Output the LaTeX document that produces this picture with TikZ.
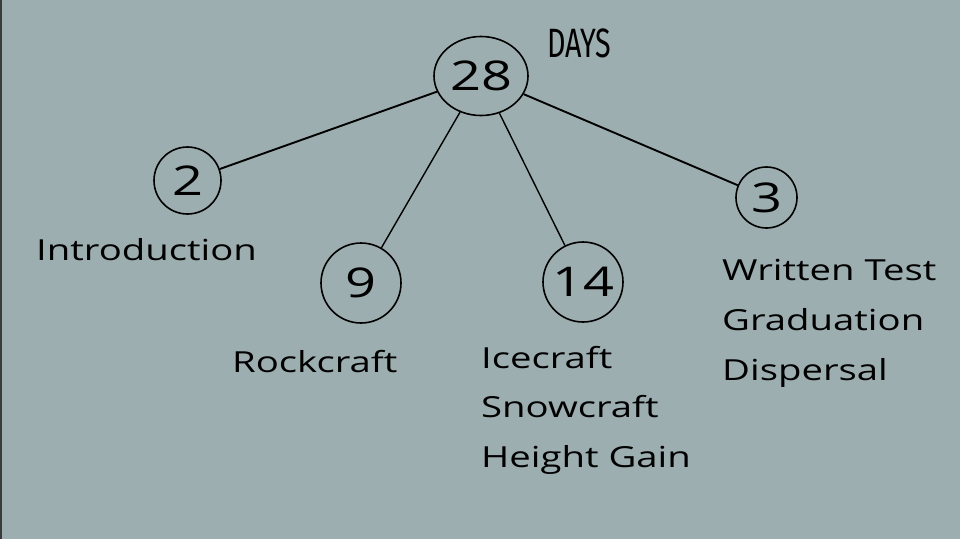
\documentclass[tikz,border=0pt]{standalone}
\usepackage{fontspec}
\setmainfont{Open Sans}[FakeStretch=1.32]
\newfontfamily\daysfont{Fira Sans}[FakeStretch=0.7,FontFace={m}{n}{* SemiBold}]
\usetikzlibrary{shapes.geometric, positioning}
\definecolor{slate}{HTML}{9DAEB0}
\definecolor{edgedark}{HTML}{3A3A3A}
\tikzset{daynum/.style={inner sep=0pt, circle, draw=black, line width=1.6pt, font=\fontsize{41}{44}\selectfont}}
\tikzset{lbl/.style={inner sep=0pt, anchor=base west, font=\fontsize{29}{34}\selectfont}}

\begin{document}
\begin{tikzpicture}[x=1pt, y=-1pt]
                        \fill[slate] (0, 0) rectangle (960, 539);
                        \fill[edgedark] (0, 0) rectangle (2, 539);
                        \useasboundingbox (0, 0) rectangle (960, 539);

                        \node[daynum, ellipse, minimum width=94pt, minimum height=79pt] (total) at (481, 76) {28};
                        \node[daynum, minimum size=67pt] (intro) at (187.5, 180.5) {2};
                        \node[daynum, minimum size=80pt] (rock) at (361, 283) {9};
                        \node[daynum, minimum size=80pt] (ice) at (583, 282) {14};
                        \node[daynum, minimum size=61pt] (grad) at (766.5, 197.5) {3};

                        \node[inner sep=0pt, anchor=base west, font=\daysfont\fontsize{41}{41}\selectfont] (days) at (547, 57) {DAYS};

                        \draw[line width=1.9pt]
                        (total) edge (intro)
                        (total) edge (grad);
                        \draw[line width=1.4pt]
                        (total) edge (rock)
                        (total) edge (ice);

                        \node[lbl] (introtxt) at (36, 260) {Introduction};
                        \node[lbl] (rocktxt) at (232, 372) {Rockcraft};

                        \node[lbl] (icetxt) at (481, 368) {Icecraft};
                        \node[lbl] (snowtxt) at ([yshift=-49pt]icetxt.base west) {Snowcraft};
                        \node[lbl] (heighttxt) at ([yshift=-50pt]snowtxt.base west) {Height Gain};

                        \node[lbl] (testtxt) at (722, 280) {Written Test};
                        \node[lbl] (gradtxt) at ([yshift=-50pt]testtxt.base west) {Graduation};
                        \node[lbl] (disptxt) at ([yshift=-50pt]gradtxt.base west) {Dispersal};
                    \end{tikzpicture}
\end{document}
